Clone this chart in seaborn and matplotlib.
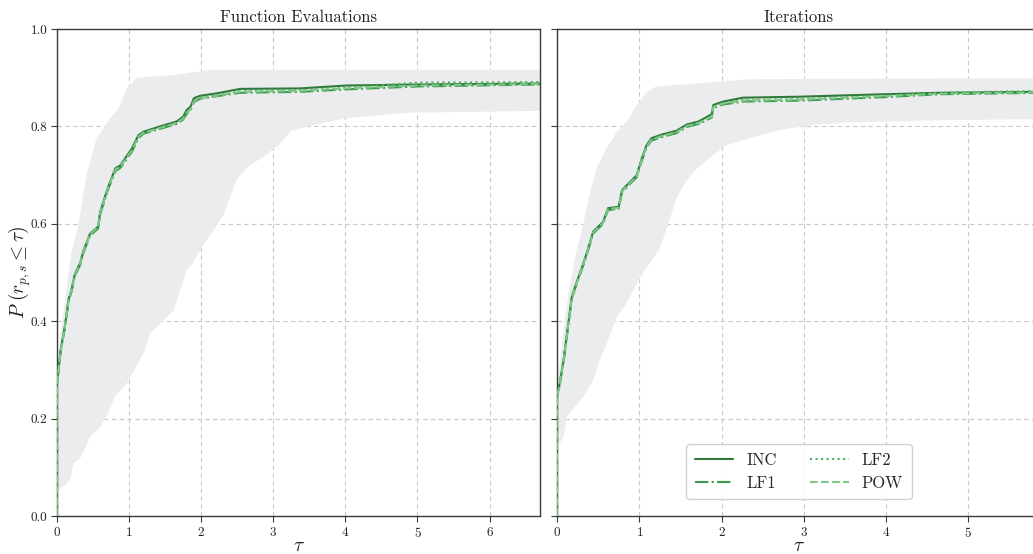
import numpy as np
import pandas as pd
import matplotlib
matplotlib.use("Agg")
import matplotlib.pyplot as plt
import seaborn as sns

# ---------------- data ----------------
panel_titles = ["Function Evaluations", "Iterations"]
solvers = ["INC", "LF1", "LF2", "POW"]

# Function evaluations profile
fe_tau = [0, 0, 0.02, 0.05, 0.11, 0.16, 0.2, 0.25, 0.32, 0.37, 0.46, 0.57, 0.6, 0.71,
          0.81, 0.88, 1.04, 1.13, 1.2, 1.43, 1.66, 1.75, 1.8, 1.85, 1.9, 1.99, 2.22,
          2.54, 3.37, 4.02, 5.0, 6.7]
fe_inc = [0, 0.275, 0.30, 0.34, 0.39, 0.444, 0.464, 0.498, 0.519, 0.546, 0.58, 0.594,
          0.625, 0.676, 0.714, 0.72, 0.755, 0.782, 0.789, 0.8, 0.81, 0.82, 0.834, 0.84,
          0.858, 0.863, 0.868, 0.877, 0.878, 0.884, 0.886, 0.888]
fe_lf1 = [0, 0.272, 0.297, 0.337, 0.387, 0.44, 0.46, 0.494, 0.515, 0.542, 0.576, 0.59,
          0.62, 0.671, 0.708, 0.715, 0.748, 0.776, 0.785, 0.795, 0.805, 0.814, 0.826,
          0.833, 0.85, 0.857, 0.862, 0.869, 0.871, 0.876, 0.882, 0.886]
fe_lf2 = [0, 0.273, 0.298, 0.338, 0.388, 0.442, 0.462, 0.496, 0.517, 0.544, 0.578, 0.592,
          0.622, 0.673, 0.71, 0.717, 0.75, 0.778, 0.786, 0.797, 0.807, 0.816, 0.829,
          0.836, 0.853, 0.859, 0.864, 0.872, 0.874, 0.879, 0.89, 0.891]
fe_pow = [0, 0.274, 0.299, 0.339, 0.389, 0.443, 0.463, 0.497, 0.518, 0.545, 0.579, 0.593,
          0.623, 0.674, 0.711, 0.718, 0.751, 0.779, 0.787, 0.797, 0.807, 0.816, 0.828,
          0.835, 0.852, 0.858, 0.863, 0.871, 0.873, 0.878, 0.884, 0.887]

fe_band_hi_tau = [0, 0.05, 0.1, 0.15, 0.2, 0.3, 0.37, 0.42, 0.55, 0.74, 0.85, 0.97, 1.1,
                  1.25, 1.6, 2.13, 6.7]
fe_band_hi = [0.30, 0.37, 0.43, 0.49, 0.54, 0.6, 0.666, 0.707, 0.776, 0.817, 0.837, 0.878,
              0.899, 0.902, 0.905, 0.916, 0.916]
fe_band_lo_tau = [0, 0.02, 0.1, 0.18, 0.23, 0.32, 0.46, 0.6, 0.71, 0.8, 0.97, 1.1, 1.22,
                  1.29, 1.48, 1.62, 1.71, 1.8, 1.89, 1.94, 2.03, 2.22, 2.31, 2.43, 2.5,
                  2.68, 2.87, 3.1, 3.24, 3.56, 4.02, 4.86, 6.7]
fe_band_lo = [0.055, 0.055, 0.062, 0.074, 0.108, 0.118, 0.163, 0.183, 0.211, 0.245, 0.272,
              0.307, 0.341, 0.375, 0.402, 0.423, 0.464, 0.505, 0.52, 0.535, 0.556, 0.598,
              0.618, 0.666, 0.693, 0.721, 0.738, 0.765, 0.79, 0.803, 0.817, 0.828, 0.832]

# Iterations profile
it_tau = [0, 0, 0.02, 0.08, 0.14, 0.18, 0.22, 0.3, 0.36, 0.44, 0.56, 0.62, 0.75, 0.79,
          0.97, 1.03, 1.09, 1.15, 1.29, 1.45, 1.58, 1.72, 1.88, 1.9, 2.02, 2.26, 2.95,
          3.97, 4.65, 5.9]
it_inc = [0, 0.25, 0.26, 0.32, 0.399, 0.45, 0.471, 0.509, 0.539, 0.584, 0.604, 0.632,
          0.635, 0.669, 0.7, 0.734, 0.762, 0.776, 0.784, 0.791, 0.804, 0.81, 0.825, 0.844,
          0.851, 0.859, 0.861, 0.866, 0.869, 0.871]
it_lf1 = [0, 0.248, 0.257, 0.317, 0.395, 0.446, 0.467, 0.505, 0.535, 0.58, 0.6, 0.628,
          0.631, 0.665, 0.696, 0.729, 0.757, 0.771, 0.779, 0.786, 0.799, 0.805, 0.818,
          0.838, 0.845, 0.851, 0.853, 0.86, 0.866, 0.869]
it_lf2 = [0, 0.249, 0.258, 0.318, 0.397, 0.448, 0.469, 0.507, 0.537, 0.582, 0.602, 0.63,
          0.633, 0.667, 0.698, 0.731, 0.759, 0.773, 0.781, 0.788, 0.801, 0.807, 0.821,
          0.84, 0.847, 0.854, 0.856, 0.863, 0.869, 0.873]
it_pow = [0, 0.249, 0.259, 0.319, 0.397, 0.448, 0.469, 0.507, 0.537, 0.582, 0.602, 0.63,
          0.633, 0.667, 0.698, 0.731, 0.759, 0.773, 0.781, 0.788, 0.801, 0.807, 0.82,
          0.84, 0.847, 0.853, 0.855, 0.862, 0.867, 0.87]

it_band_hi_tau = [0, 0.05, 0.1, 0.15, 0.24, 0.32, 0.38, 0.48, 0.6, 0.73, 0.85, 0.97, 1.09,
                  1.21, 1.53, 2.35, 5.9]
it_band_hi = [0.27, 0.34, 0.41, 0.47, 0.546, 0.6, 0.65, 0.714, 0.755, 0.789, 0.81, 0.844,
              0.871, 0.882, 0.886, 0.897, 0.899]
it_band_lo_tau = [0, 0.02, 0.08, 0.12, 0.32, 0.44, 0.52, 0.62, 0.73, 0.87, 0.99, 1.13,
                  1.25, 1.35, 1.45, 1.56, 1.7, 1.9, 2.06, 2.35, 2.71, 3.11, 3.52, 4.73, 5.9]
it_band_lo = [0.146, 0.146, 0.163, 0.204, 0.245, 0.279, 0.32, 0.361, 0.409, 0.444, 0.485,
              0.52, 0.55, 0.598, 0.652, 0.686, 0.714, 0.741, 0.762, 0.776, 0.793, 0.803,
              0.808, 0.813, 0.815]

x_limits = [6.7, 5.87]
x_ticks = [[0, 1, 2, 3, 4, 5, 6], [0, 1, 2, 3, 4, 5]]
y_ticks = [0.0, 0.2, 0.4, 0.6, 0.8, 1.0]

# ---------------- style ----------------
sns.set_theme(style="whitegrid")
plt.rcParams["font.family"] = ["cmr10", "DejaVu Serif"]
plt.rcParams["mathtext.fontset"] = "cm"
plt.rcParams["axes.formatter.use_mathtext"] = True

line_colors = {"INC": "#2f7a3b", "LF1": "#3d9a4b", "LF2": "#4fb05f", "POW": "#7cc886"}
line_styles = {"INC": "-", "LF1": "-.", "LF2": ":", "POW": "--"}
band_color = "#ebecee"
spine_color = "#3a3a3a"
text_color = "#222222"

fig = plt.figure(figsize=(10.33, 5.54), dpi=100)
W, H = 1033, 554
ax_w = 483 / W
ax_bottom = (H - 516) / H
ax_h = 487 / H
axes = [fig.add_axes([57 / W, ax_bottom, ax_w, ax_h]),
        fig.add_axes([557 / W, ax_bottom, ax_w, ax_h])]

panels = [
    dict(tau=fe_tau, series=[fe_inc, fe_lf1, fe_lf2, fe_pow],
         hi_t=fe_band_hi_tau, hi=fe_band_hi, lo_t=fe_band_lo_tau, lo=fe_band_lo),
    dict(tau=it_tau, series=[it_inc, it_lf1, it_lf2, it_pow],
         hi_t=it_band_hi_tau, hi=it_band_hi, lo_t=it_band_lo_tau, lo=it_band_lo),
]

for i, (ax, p) in enumerate(zip(axes, panels)):
    # envelope of the profiles
    poly_x = list(p["hi_t"]) + list(p["lo_t"])[::-1]
    poly_y = list(p["hi"]) + list(p["lo"])[::-1]
    ax.fill(poly_x, poly_y, color=band_color, lw=0, zorder=1)

    frames = []
    for name, vals in zip(solvers, p["series"]):
        frames.append(pd.DataFrame({"tau": p["tau"], "P": vals, "solver": name}))
    df = pd.concat(frames, ignore_index=True)
    for name in solvers:
        sub = df[df["solver"] == name]
        sns.lineplot(data=sub, x="tau", y="P", ax=ax, estimator=None, sort=False,
                     color=line_colors[name], linestyle=line_styles[name], lw=1.5,
                     label=name, zorder=3, legend=False)

    ax.set_xlim(0, x_limits[i])
    ax.set_ylim(0, 1.0)
    ax.set_xticks(x_ticks[i])
    ax.set_yticks(y_ticks)
    ax.grid(True, linestyle=(0, (4, 3)), color="#c8c8c8", lw=0.8)
    ax.set_facecolor("white")
    for s in ax.spines.values():
        s.set_color(spine_color)
        s.set_linewidth(1.0)
        s.set_visible(True)
    ax.tick_params(axis="both", which="major", direction="out", length=4, width=0.8,
                   color=spine_color, labelsize=9.5, labelcolor=text_color,
                   bottom=True, left=True, pad=3)
    ax.set_title(panel_titles[i], fontsize=12, color=text_color, pad=5)
    ax.set_xlabel(r"$\tau$", fontsize=14, color=text_color)
    ax.xaxis.set_label_coords(0.5, -0.044)
    if i == 0:
        ax.set_yticklabels([f"{v:.1f}" for v in y_ticks])
        ax.set_ylabel(r"$P\ (r_{p,s} \leq \tau)$", fontsize=14, color=text_color)
        ax.yaxis.set_label_coords(-0.05, 0.5)
    else:
        ax.set_yticklabels([])
        ax.set_ylabel("")

handles, labels = axes[1].get_legend_handles_labels()
leg = axes[1].legend(handles, labels, ncol=2, loc="center",
                     bbox_to_anchor=(0.501, 0.091), fontsize=12, frameon=True,
                     fancybox=True, framealpha=0.9, edgecolor="#cccccc",
                     handlelength=2.3, handletextpad=0.8, columnspacing=2.0,
                     borderpad=0.5, labelspacing=0.45)

fig.savefig("out.png", dpi=100)
